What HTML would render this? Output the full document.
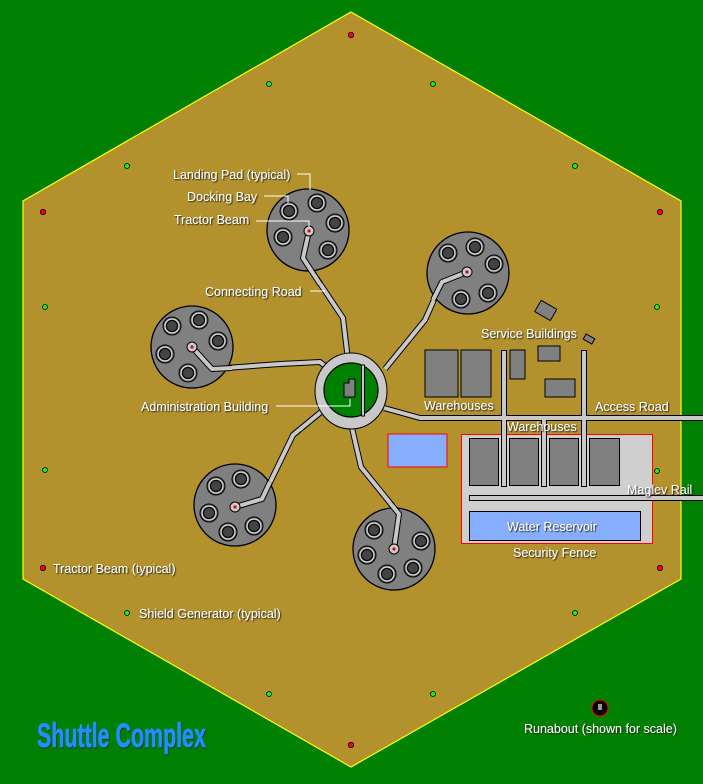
<!DOCTYPE html>
<html><head><meta charset="utf-8"><style>
html,body{margin:0;padding:0;background:#008000;}
svg{display:block}
.t{font-family:"Liberation Sans",sans-serif;font-size:12.5px;fill:#fff;}
</style></head><body>
<svg width="703" height="784" viewBox="0 0 703 784" xmlns="http://www.w3.org/2000/svg">
<defs>
<g id="bay"><circle r="9" fill="#555" stroke="#000" stroke-width="1"/><circle r="7" fill="none" stroke="#ddd" stroke-width="1.2"/><circle r="5.5" fill="#444" stroke="#000" stroke-width="1"/></g>
<g id="beam"><circle r="5" fill="#ccc" stroke="#000" stroke-width="1"/><circle r="1.6" fill="#e00"/></g>
<filter id="sh" x="-10%" y="-10%" width="130%" height="150%"><feDropShadow dx="1" dy="1" stdDeviation="0.4" flood-color="#222"/></filter>
</defs>
<rect width="703" height="784" fill="#008000"/>
<polygon points="351,12 681,201 681,579 351,767 23,579 23,201" fill="#b3922e" stroke="#ffff00" stroke-width="1.2"/>

<g fill="none" stroke="#000" stroke-width="6" stroke-linejoin="round">
<polyline points="309,231 303,258 343,318 348,360"/>
<polyline points="467,272 442,282 425,320 385,369"/>
<polyline points="192,347 212,369 280,364 320,362 330,370"/>
<polyline points="235,507 262,499 293,435 321,412"/>
<polyline points="394,549 399,514 361,467 352,428"/>
<polyline points="384,408 420,418 703,418"/>
<line x1="504" y1="350" x2="504" y2="487"/><line x1="544" y1="418" x2="544" y2="487"/><line x1="584" y1="350" x2="584" y2="487"/>
</g>
<g fill="none" stroke="#c8c8c8" stroke-width="4" stroke-linejoin="round">
<polyline points="309,231 303,258 343,318 348,360"/>
<polyline points="467,272 442,282 425,320 385,369"/>
<polyline points="192,347 212,369 280,364 320,362 330,370"/>
<polyline points="235,507 262,499 293,435 321,412"/>
<polyline points="394,549 399,514 361,467 352,428"/>
<polyline points="384,408 420,418 703,418"/>
<line x1="504" y1="351" x2="504" y2="486"/><line x1="544" y1="418" x2="544" y2="486"/><line x1="584" y1="351" x2="584" y2="486"/>
</g>

<g fill="#808080" stroke="#000" stroke-width="1.3">
<circle cx="308" cy="230" r="41"/><circle cx="468" cy="273" r="41"/><circle cx="192" cy="347" r="41"/><circle cx="235" cy="505" r="41"/><circle cx="394" cy="549" r="41"/>
</g>
<g fill="none" stroke="#000" stroke-width="6" stroke-linejoin="round">
<polyline points="309,231 303,258 320,284"/><polyline points="467,272 442,282 433,300"/><polyline points="192,347 212,369 232,368"/><polyline points="235,507 262,499 270,482"/><polyline points="394,549 399,514 390,503"/>
</g>
<g fill="none" stroke="#c8c8c8" stroke-width="4" stroke-linejoin="round">
<polyline points="309,231 303,258 320,284"/><polyline points="467,272 442,282 433,300"/><polyline points="192,347 212,369 232,368"/><polyline points="235,507 262,499 270,482"/><polyline points="394,549 399,514 390,503"/>
</g>
<use href="#bay" x="289" y="211"/><use href="#bay" x="317" y="203"/><use href="#bay" x="335" y="223"/><use href="#bay" x="328" y="250"/><use href="#bay" x="283" y="237"/><use href="#beam" x="309" y="231"/>
<use href="#bay" x="448" y="253"/><use href="#bay" x="475" y="247"/><use href="#bay" x="494" y="264"/><use href="#bay" x="488" y="293"/><use href="#bay" x="461" y="299"/><use href="#beam" x="467" y="272"/>
<use href="#bay" x="172" y="326"/><use href="#bay" x="199" y="320"/><use href="#bay" x="218" y="341"/><use href="#bay" x="188" y="373"/><use href="#bay" x="165" y="354"/><use href="#beam" x="192" y="347"/>
<use href="#bay" x="216" y="486"/><use href="#bay" x="241" y="479"/><use href="#bay" x="209" y="513"/><use href="#bay" x="228" y="532"/><use href="#bay" x="254" y="526"/><use href="#beam" x="235" y="507"/>
<use href="#bay" x="374" y="530"/><use href="#bay" x="421" y="541"/><use href="#bay" x="367" y="555"/><use href="#bay" x="387" y="574"/><use href="#bay" x="413" y="568"/><use href="#beam" x="394" y="549"/>

<ellipse cx="351" cy="391" rx="36" ry="38" fill="#c8c8c8" stroke="#000" stroke-width="1"/>
<circle cx="351" cy="390" r="27" fill="#008000" stroke="#000" stroke-width="1.2"/>
<rect x="361.5" y="365" width="3" height="51" fill="#c8c8c8" stroke="#000" stroke-width="1"/>
<polygon points="344,383 349,383 349,379 355,379 355,397 344,397" fill="#808080" stroke="#000" stroke-width="1"/>

<g fill="#808080" stroke="#000" stroke-width="1">
<rect x="425" y="350" width="33" height="47"/><rect x="461" y="350" width="30" height="47"/>
<rect x="510" y="350" width="15" height="29"/><rect x="538" y="346" width="22" height="15"/><rect x="545" y="379" width="30" height="18"/>
<rect x="537" y="304" width="18" height="13" transform="rotate(30 546 310)"/>
<rect x="584" y="336" width="10" height="6" transform="rotate(30 589 339)"/>
</g>
<rect x="388" y="434" width="59" height="33" fill="#87aefe" stroke="#f00" stroke-width="1"/>
<rect x="461.5" y="434.5" width="191" height="109" fill="#cfcfcf" stroke="#f00" stroke-width="1"/>
<g fill="none" stroke="#000" stroke-width="6"><line x1="504" y1="418" x2="504" y2="487"/><line x1="544" y1="418" x2="544" y2="487"/><line x1="584" y1="418" x2="584" y2="487"/><line x1="469" y1="498" x2="703" y2="498"/></g>
<g fill="none" stroke="#c8c8c8" stroke-width="4"><line x1="504" y1="416" x2="504" y2="486"/><line x1="544" y1="416" x2="544" y2="486"/><line x1="584" y1="416" x2="584" y2="486"/><line x1="470" y1="498" x2="703" y2="498"/><line x1="420" y1="418" x2="703" y2="418"/></g>
<g fill="#808080" stroke="#000" stroke-width="1">
<rect x="469.5" y="438.5" width="29" height="47"/><rect x="509.5" y="438.5" width="29" height="47"/><rect x="549.5" y="438.5" width="29" height="47"/><rect x="589.5" y="438.5" width="30" height="47"/>
</g>
<rect x="469.5" y="511.5" width="171" height="29" fill="#87aefe" stroke="#000" stroke-width="1"/>

<g fill="#f00" stroke="#000" stroke-width="0.8">
<circle cx="351" cy="35" r="2.7"/><circle cx="43" cy="212" r="2.7"/><circle cx="660" cy="212" r="2.7"/><circle cx="43" cy="568" r="2.7"/><circle cx="660" cy="568" r="2.7"/><circle cx="351" cy="745" r="2.7"/>
</g>
<g fill="#0f0" stroke="#000" stroke-width="0.8">
<circle cx="269" cy="84" r="2.5"/><circle cx="433" cy="84" r="2.5"/><circle cx="127" cy="166" r="2.5"/><circle cx="575" cy="166" r="2.5"/><circle cx="45" cy="307" r="2.5"/><circle cx="657" cy="307" r="2.5"/><circle cx="45" cy="470" r="2.5"/><circle cx="657" cy="471" r="2.5"/><circle cx="127" cy="613" r="2.5"/><circle cx="575" cy="613" r="2.5"/><circle cx="269" cy="694" r="2.5"/><circle cx="433" cy="694" r="2.5"/>
</g>

<circle cx="600" cy="708" r="8" fill="#000" stroke="#f00" stroke-width="1"/>
<rect x="598" y="704" width="4" height="6" fill="#999"/>

<g fill="none" stroke="#fff" stroke-width="1">
<polyline points="297,174 310,174 310,190"/>
<polyline points="264,196 288,196 288,203"/>
<polyline points="256,221 309,221 309,227"/>
<line x1="310" y1="291" x2="325" y2="291"/>
<polyline points="276,406 350,406 350,399"/>
</g>

<g class="t" filter="url(#sh)">
<text x="173" y="179">Landing Pad (typical)</text>
<text x="187" y="201">Docking Bay</text>
<text x="174" y="224">Tractor Beam</text>
<text x="205" y="296">Connecting Road</text>
<text x="141" y="411">Administration Building</text>
<text x="481" y="338">Service Buildings</text>
<text x="424" y="410">Warehouses</text>
<text x="595" y="411">Access Road</text>
<text x="507" y="431">Warehouses</text>
<text x="627" y="494">Maglev Rail</text>
<text x="507" y="531">Water Reservoir</text>
<text x="513" y="557">Security Fence</text>
<text x="53" y="573">Tractor Beam (typical)</text>
<text x="139" y="618">Shield Generator (typical)</text>
<text x="524" y="733">Runabout (shown for scale)</text>
</g>
<text x="37" y="747" transform="translate(37 0) scale(0.63 1) translate(-37 0)" font-family="'Liberation Sans',sans-serif" font-weight="bold" font-size="34" fill="#1e90ff" stroke="#1e90ff" stroke-width="0.6" filter="url(#sh)">Shuttle Complex</text>
</svg>
</body></html>
